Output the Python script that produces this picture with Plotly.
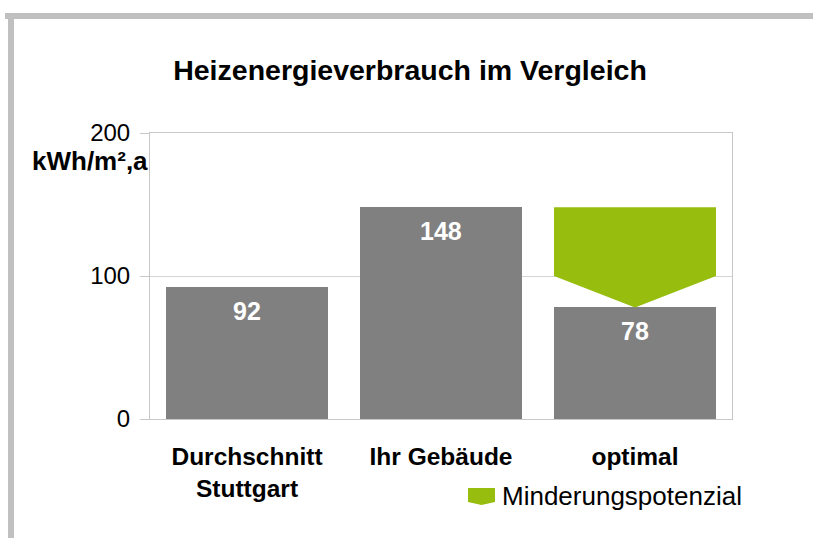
import plotly.graph_objects as go

# ---- data ----
categories = ["Durchschnitt<br>Stuttgart", "Ihr Gebäude", "optimal"]
consumption = [92, 148, 78]           # kWh/m²,a
reduction_name = "Minderungspotenzial"
reduction_from = 148                  # current building
reduction_to = 78                     # optimal
reduction_shoulder = 100              # level where the arrow starts to narrow
y_ticks = [0, 100, 200]
y_unit = "kWh/m²,a"
title = "Heizenergieverbrauch im Vergleich"

GRAY = "#808080"
GREEN = "#97BE0E"
BORDER = "#c0c0c0"
AXIS = "#c8c8c8"
FONT = "Liberation Sans, Arial, sans-serif"

W, H = 813, 538
L, R, T, B = 150, 81, 133, 119
pw, ph = W - L - R, H - T - B
bar_w = 0.835

def px_x(p):
    return (p - L) / pw

def px_y(p):
    return (H - B - p) / ph

x_pos = list(range(len(categories)))

fig = go.Figure()
fig.add_trace(go.Bar(
    x=x_pos, y=consumption, width=bar_w,
    marker=dict(color=GRAY, line=dict(width=0)),
    showlegend=False, hoverinfo="skip",
))

xi = categories.index("optimal")
x0, x1 = xi - bar_w / 2, xi + bar_w / 2
fig.add_trace(go.Scatter(
    x=[x0, x1, x1, xi, x0, x0],
    y=[reduction_from, reduction_from, reduction_shoulder, reduction_to,
       reduction_shoulder, reduction_from],
    fill="toself", fillcolor=GREEN, mode="lines",
    line=dict(width=0, color=GREEN),
    name=reduction_name, showlegend=False, hoverinfo="skip",
))

annotations = []
for i, v in enumerate(consumption):
    annotations.append(dict(
        x=i, y=v, xref="x", yref="y", text=f"<b>{v}</b>", showarrow=False,
        yanchor="middle", yshift=-24,
        font=dict(family=FONT, size=25, color="white"),
    ))
annotations.append(dict(
    x=0, y=180.5, xref="paper", yref="y", text=f"<b>{y_unit}</b>",
    showarrow=False, xanchor="right", yanchor="middle", xshift=0,
    font=dict(family=FONT, size=26, color="black"),
))
# legend entry (custom icon shape + text)
annotations.append(dict(
    x=px_x(500), y=px_y(496), xref="paper", yref="paper",
    text=reduction_name, showarrow=False, xanchor="left", yanchor="middle",
    font=dict(family=FONT, size=26, color="black"),
))

legend_icon = (f"M{px_x(468)},{px_y(488)} L{px_x(495)},{px_y(488)} "
               f"L{px_x(495)},{px_y(502)} L{px_x(481.5)},{px_y(505)} "
               f"L{px_x(468)},{px_y(502)} Z")

shapes = [
    dict(type="rect", xref="paper", yref="paper",
         x0=px_x(5), x1=px_x(813), y0=px_y(19), y1=px_y(13),
         fillcolor=BORDER, line=dict(width=0), layer="below"),
    dict(type="rect", xref="paper", yref="paper",
         x0=px_x(8), x1=px_x(14), y0=px_y(538), y1=px_y(13),
         fillcolor=BORDER, line=dict(width=0), layer="below"),
    dict(type="path", xref="paper", yref="paper", path=legend_icon,
         fillcolor=GREEN, line=dict(width=0)),
]

fig.update_layout(
    width=W, height=H,
    margin=dict(l=L, r=R, t=T, b=B, pad=0),
    paper_bgcolor="white", plot_bgcolor="white",
    font=dict(family=FONT, size=25, color="black"),
    title=dict(text=f"<b>{title}</b>", x=410 / W, xref="container",
               xanchor="center", y=1 - 70 / H, yref="container",
               yanchor="middle", font=dict(family=FONT, size=28.5, color="black")),
    bargap=0,
    showlegend=False,
    annotations=annotations,
    shapes=shapes,
)
fig.update_xaxes(
    range=[-0.5, len(categories) - 0.5], tickmode="array", tickvals=x_pos,
    ticktext=[f"<b>{c}</b>" for c in categories], ticks="",
    showline=True, mirror=True, linecolor=AXIS, linewidth=1,
    showgrid=False, zeroline=False, ticklabelstandoff=16,
    tickfont=dict(family=FONT, size=24.5, color="black"),
)
fig.update_yaxes(
    range=[0, 200], tickmode="array", tickvals=y_ticks,
    ticks="outside", ticklen=9, tickcolor=AXIS, ticklabelstandoff=5,
    showline=True, mirror=True, linecolor=AXIS, linewidth=1,
    showgrid=True, gridcolor="#d4d4d4", zeroline=False,
    tickfont=dict(family=FONT, size=24, color="black"),
)

fig.write_html("out.html")
